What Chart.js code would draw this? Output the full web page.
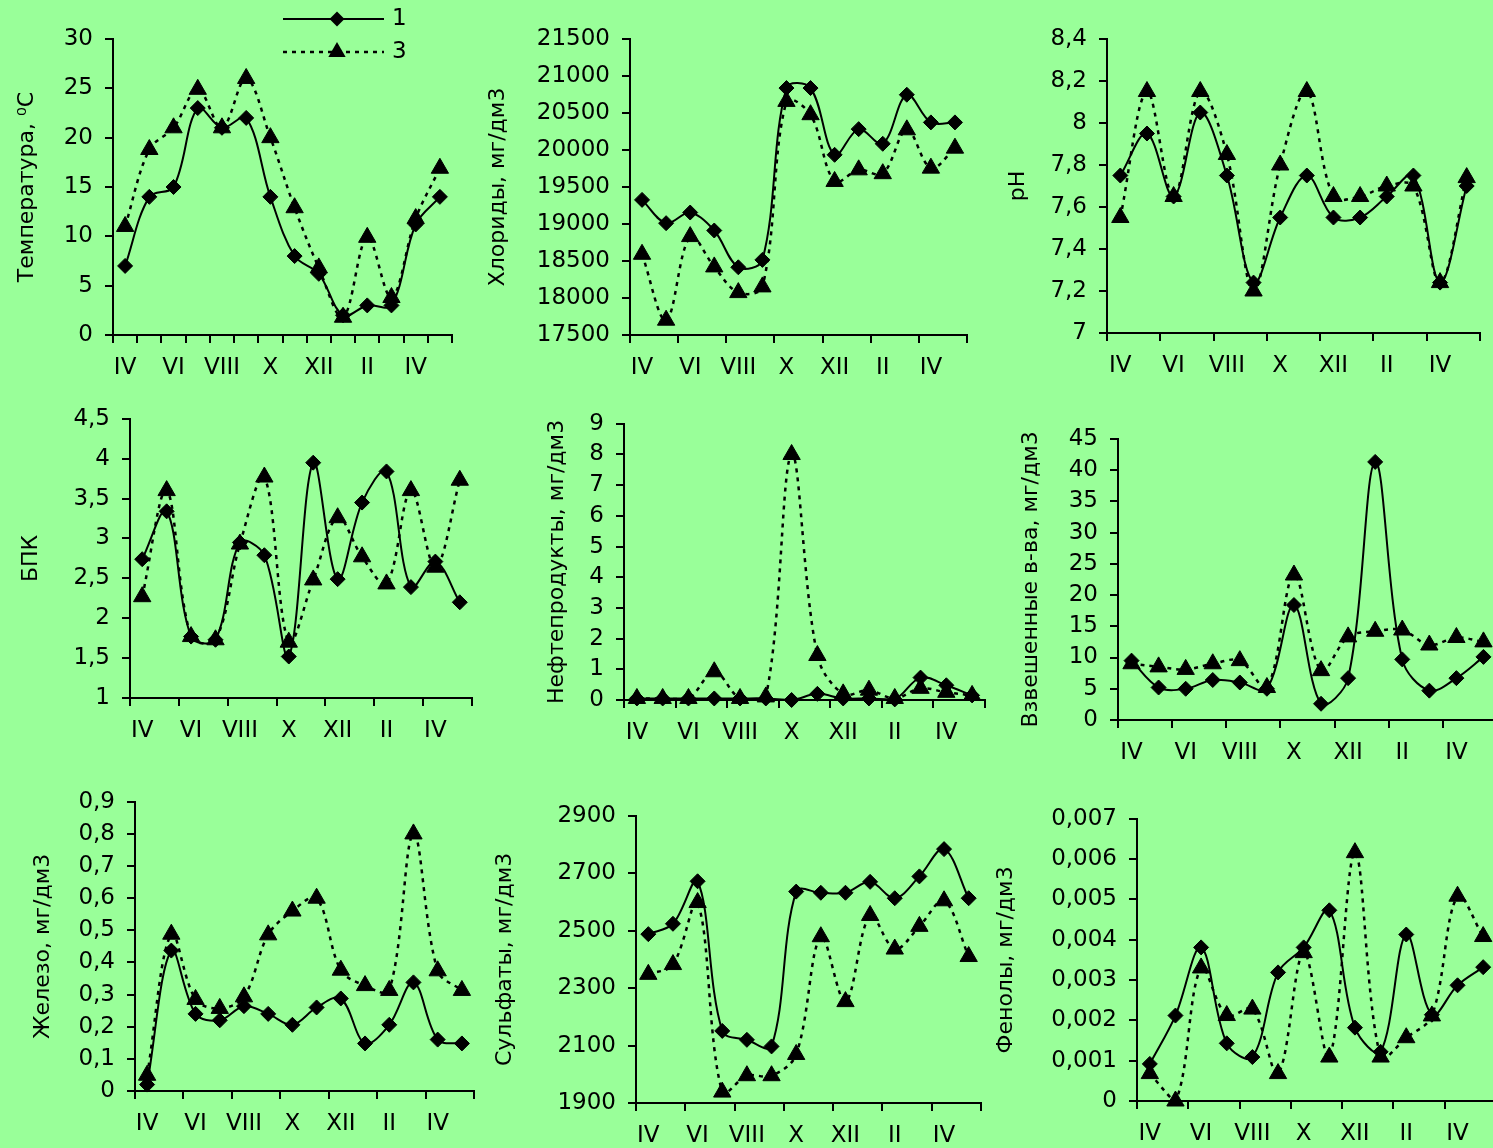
<!DOCTYPE html>
<html>
<head>
<meta charset="utf-8">
<script src="https://cdn.jsdelivr.net/npm/chart.js@4.4.0/dist/chart.umd.min.js"></script>
<style>
  html, body { margin: 0; padding: 0; background: #99ff99; width: 1493px; height: 1148px; overflow: hidden; position: relative; }
  canvas { position: absolute; }
</style>
</head>
<body>
<script>
// months from April to May of next year
const months = ['IV','V','VI','VII','VIII','IX','X','XI','XII','I','II','III','IV','V'];

const temp1 = [7, 14, 15, 23, 21, 22, 14, 8, 6.2, 2, 3, 3, 11.2, 14];
const temp3 = [11, 18.8, 21, 24.9, 21, 26, 20, 12.9, 6.8, 1.8, 9.9, 3.8, 11.8, 16.9];

const chlor1 = [19326, 19011, 19155, 18912, 18415, 18515, 20837, 20837, 19935, 20282, 20084, 20747, 20373, 20373];
const chlor3 = [18591, 17700, 18830, 18420, 18073, 18150, 20657, 20477, 19575, 19732, 19680, 20273, 19755, 20025];

const ph1 = [7.75, 7.95, 7.65, 8.05, 7.75, 7.24, 7.55, 7.75, 7.55, 7.55, 7.65, 7.75, 7.24, 7.7];
const ph3 = [7.55, 8.15, 7.65, 8.15, 7.85, 7.2, 7.8, 8.15, 7.65, 7.65, 7.7, 7.7, 7.24, 7.74];

const bpk1 = [2.74, 3.34, 1.77, 1.73, 2.95, 2.79, 1.52, 3.95, 2.49, 3.45, 3.84, 2.39, 2.71, 2.2];
const bpk3 = [2.27, 3.6, 1.77, 1.73, 2.93, 3.77, 1.7, 2.48, 3.26, 2.77, 2.43, 3.6, 2.64, 3.73];

const oil1 = [0.05, 0.05, 0.05, 0.05, 0.05, 0.05, 0, 0.2, 0.05, 0.05, 0.02, 0.73, 0.48, 0.15];
const oil3 = [0.05, 0.05, 0.05, 0.92, 0.05, 0.1, 8.0, 1.45, 0.2, 0.32, 0.05, 0.38, 0.25, 0.15];

const susp1 = [9.5, 5.2, 5.0, 6.4, 6.0, 5.0, 18.4, 2.6, 6.7, 41.3, 9.7, 4.7, 6.7, 10.1];
const susp3 = [9.0, 8.5, 8.1, 9.0, 9.5, 5.2, 23.2, 7.9, 13.3, 14.2, 14.4, 12.0, 13.2, 12.5];

const iron1 = [0.02, 0.437, 0.24, 0.22, 0.264, 0.24, 0.206, 0.26, 0.288, 0.148, 0.206, 0.338, 0.16, 0.148];
const iron3 = [0.049, 0.488, 0.285, 0.257, 0.293, 0.486, 0.56, 0.6, 0.376, 0.328, 0.313, 0.8, 0.374, 0.313];

const sulf1 = [2488, 2524, 2672, 2151, 2120, 2097, 2636, 2632, 2632, 2670, 2613, 2689, 2784, 2613];
const sulf3 = [2348, 2382, 2598, 1938, 1995, 1995, 2069, 2479, 2253, 2553, 2436, 2515, 2604, 2410];

const phen1 = [0.00092, 0.00212, 0.00381, 0.00143, 0.00109, 0.00319, 0.00381, 0.00473, 0.00182, 0.00122, 0.00413, 0.00214, 0.00287, 0.00332];
const phen3 = [0.00068, 0, 0.0033, 0.00212, 0.00228, 0.00068, 0.00368, 0.00109, 0.00616, 0.00109, 0.00157, 0.00211, 0.00508, 0.00408];

const FONT = '"DejaVu Sans", "Liberation Sans", Arial, sans-serif';

// plot area rectangles on the page, y axis box width
const panels = [
  { title: 'Температура, \u2070C', s1: temp1, s3: temp3, min: 0, max: 30, step: 5, everyTick: true,
    left: 112.9, top: 39, right: 451.4, bottom: 335, yW: 99, padT: 39, legend: true },
  { title: 'Хлориды, мг/дм3', s1: chlor1, s3: chlor3, min: 17500, max: 21500, step: 500,
    left: 630.3, top: 39, right: 967, bottom: 335, yW: 145, padT: 39 },
  { title: 'pH', s1: ph1, s3: ph3, min: 7, max: 8.4, step: 0.2,
    left: 1106.7, top: 39.3, right: 1480, bottom: 333, yW: 102, padT: 39 },
  { title: 'БПК', s1: bpk1, s3: bpk3, min: 1, max: 4.5, step: 0.5,
    left: 129.5, top: 413, right: 471.5, bottom: 698, yW: 112, padT: 20 },
  { title: 'Нефтепродукты, мг/дм3', s1: oil1, s3: oil3, min: 0, max: 9, step: 1,
    left: 623.8, top: 418, right: 984.6, bottom: 700, yW: 80, padT: 20 },
  { title: 'Взвешенные в-ва, мг/дм3', s1: susp1, s3: susp3, min: 0, max: 45, step: 5,
    left: 1117.5, top: 433, right: 1496.5, bottom: 720, yW: 100, padT: 20 },
  { title: 'Железо, мг/дм3', s1: iron1, s3: iron3, min: 0, max: 0.9, step: 0.1,
    left: 134.6, top: 796, right: 473.8, bottom: 1091, yW: 105, padT: 20 },
  { title: 'Сульфаты, мг/дм3', s1: sulf1, s3: sulf3, min: 1900, max: 2900, step: 200,
    left: 636, top: 810, right: 980.5, bottom: 1103, yW: 144, padT: 20 },
  { title: 'Фенолы, мг/дм3', s1: phen1, s3: phen3, min: 0, max: 0.007, step: 0.001,
    left: 1136.5, top: 813, right: 1495, bottom: 1101, yW: 144, padT: 20 }
];

function fmt(v) {
  return String(Number(v.toFixed(6))).replace('.', ',');
}

function marker(ctx, style, x, y, r) {
  ctx.beginPath();
  if (style === 'triangle') {
    ctx.moveTo(x, y - r);
    ctx.lineTo(x + 0.866 * r, y + 0.5 * r);
    ctx.lineTo(x - 0.866 * r, y + 0.5 * r);
  } else {
    ctx.moveTo(x - r, y);
    ctx.lineTo(x, y - r);
    ctx.lineTo(x + r, y);
    ctx.lineTo(x, y + r);
  }
  ctx.closePath();
  ctx.fill();
}

// legend with line sample and marker in the middle
const lineLegend = {
  id: 'lineLegend',
  afterDraw(chart, args, opts) {
    if (!opts.show) return;
    const ctx = chart.ctx;
    const a = chart.chartArea;
    const rows = [a.top - 20, a.top + 13];
    chart.data.datasets.forEach((ds, i) => {
      const y = rows[i];
      ctx.save();
      ctx.strokeStyle = '#000';
      ctx.fillStyle = '#000';
      ctx.lineWidth = ds.borderWidth;
      ctx.setLineDash(ds.borderDash || []);
      ctx.beginPath();
      ctx.moveTo(a.left + 170, y);
      ctx.lineTo(a.left + 271, y);
      ctx.stroke();
      ctx.setLineDash([]);
      marker(ctx, ds.pointStyle, a.left + 224, y, ds.pointRadius);
      ctx.font = '23px ' + FONT;
      ctx.textBaseline = 'middle';
      ctx.textAlign = 'left';
      ctx.fillText(ds.label, a.left + 279, y);
      ctx.restore();
    });
  }
};

panels.forEach(p => {
  const padR = 15, xH = 50;
  const w = Math.round(p.yW + (p.right - p.left) + padR);
  const h = Math.round(p.padT + (p.bottom - p.top) + xH);
  const cv = document.createElement('canvas');
  cv.width = w; cv.height = h;
  cv.style.width = w + 'px';
  cv.style.height = h + 'px';
  cv.style.left = (p.left - p.yW) + 'px';
  cv.style.top = (p.top - p.padT) + 'px';
  document.body.appendChild(cv);

  new Chart(cv, {
    type: 'line',
    data: {
      labels: months,
      datasets: [
        { label: '1', data: p.s1, borderColor: '#000', backgroundColor: '#000', borderWidth: 2,
          pointStyle: 'rectRot', pointRadius: 7.5, pointBorderWidth: 1, tension: 0.35, clip: false },
        { label: '3', data: p.s3, borderColor: '#000', backgroundColor: '#000', borderWidth: 2.5,
          borderDash: [4, 5], pointStyle: 'triangle', pointRadius: 10, pointBorderWidth: 1, tension: 0.35, clip: false }
      ]
    },
    options: {
      responsive: false,
      animation: false,
      layout: { padding: { top: p.padT, right: padR, left: 0, bottom: 0 } },
      plugins: {
        legend: { display: false },
        tooltip: { enabled: false },
        lineLegend: { show: !!p.legend }
      },
      scales: {
        x: {
          offset: true,
          grid: {
            offset: true, drawOnChartArea: false, drawTicks: true, tickLength: 8, lineWidth: 2,
            tickColor: ctx => (p.everyTick || ctx.index === undefined || ctx.index % 2 === 0) ? '#000' : 'rgba(0,0,0,0)'
          },
          border: { color: '#000', width: 2 },
          ticks: {
            autoSkip: false, maxRotation: 0, minRotation: 0, padding: 11, color: '#000',
            font: { family: FONT, size: 23 },
            callback: (v, i) => i % 2 === 0 ? months[i] : ''
          },
          afterFit: s => { s.height = xH; }
        },
        y: {
          min: p.min, max: p.max,
          grid: { drawOnChartArea: false, drawTicks: true, tickLength: 8, lineWidth: 2, color: '#000' },
          border: { color: '#000', width: 2 },
          ticks: { stepSize: p.step, padding: 12, color: '#000', font: { family: FONT, size: 23 }, callback: v => fmt(v) },
          title: { display: true, text: p.title, color: '#000', font: { family: FONT, size: 22 }, padding: 0 },
          afterFit: s => { s.width = p.yW; }
        }
      }
    },
    plugins: [lineLegend]
  });
});
</script>
</body>
</html>
